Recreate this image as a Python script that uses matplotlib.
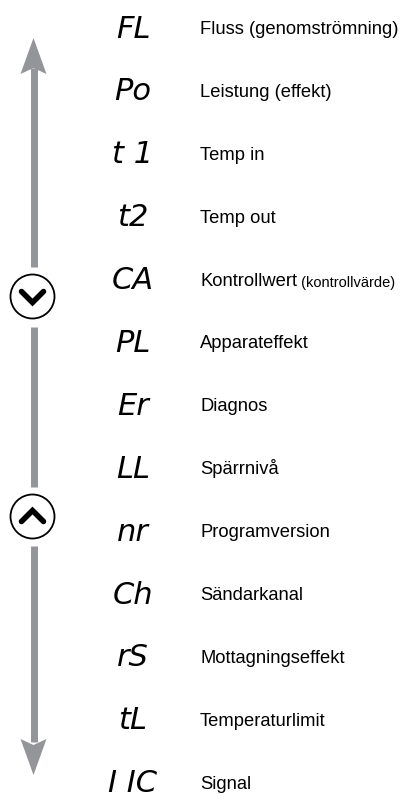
import numpy as np
import matplotlib
matplotlib.use('Agg')
import matplotlib.pyplot as plt
from matplotlib import font_manager as fm
from matplotlib.patches import Circle, Polygon

# display codes and their meaning
codes = ['FL', 'Po', 't 1', 't2', 'CA', 'PL', 'Er', 'LL', 'nr', 'Ch', 'rS', 'tL', 'I IC']
labels = ['Fluss (genomströmning)', 'Leistung (effekt)', 'Temp in', 'Temp out',
          'Kontrollwert', 'Apparateffekt', 'Diagnos', 'Spärrnivå', 'Programversion',
          'Sändarkanal', 'Mottagningseffekt', 'Temperaturlimit', 'Signal']
notes = ['', '', '', '', '(kontrollvärde)', '', '', '', '', '', '', '', '']

names = {f.name for f in fm.fontManager.ttflist}
if 'Liberation Sans Narrow' in names:
    lab_font, lab_size = 'Liberation Sans Narrow', 16
else:
    lab_font, lab_size = 'Liberation Sans', 13.2

fig = plt.figure(figsize=(4.01, 8.0), dpi=100)
ax = fig.add_axes([0, 0, 1, 1])
ax.set_xlim(0, 401)
ax.set_ylim(800, 0)
ax.axis('off')

y0, step = 29, 62.9
rows = y0 + step * np.arange(len(codes))

for y, c, lab, note in zip(rows, codes, labels, notes):
    ax.text(133, y, c, ha='center', va='center', fontsize=22,
            family='DejaVu Sans', style='oblique', color='black')
    t = ax.text(200, y + 5, lab, ha='left', va='baseline', fontsize=lab_size,
                family=lab_font, color='black')
    if note:
        ax.annotate(' ' + note, xy=(1, 0), xycoords=t, va='bottom', ha='left',
                    fontsize=10.5, family='Liberation Sans', color='black')

# navigation arrow on the left
gray = '#939598'
cx = 33.5
ax.plot([cx, cx], [68, 267], color=gray, lw=5, solid_capstyle='butt')
ax.plot([cx, cx], [327, 487], color=gray, lw=5, solid_capstyle='butt')
ax.plot([cx, cx], [546, 742], color=gray, lw=5, solid_capstyle='butt')
ax.add_patch(Polygon([[cx, 38], [cx + 13, 74], [cx, 68], [cx - 13, 74]],
                     closed=True, color=gray, lw=0))
ax.add_patch(Polygon([[cx, 775], [cx + 13, 739], [cx, 745], [cx - 13, 739]],
                     closed=True, color=gray, lw=0))

# buttons
for cy, d in [(296.5, 1), (516.5, -1)]:
    ax.add_patch(Circle((cx - 1, cy), 22, fill=False, ec='black', lw=1.3))
    ax.plot([cx - 12, cx - 1, cx + 10], [cy - 5 * d, cy + 6 * d, cy - 5 * d],
            color='black', lw=4, solid_capstyle='round', solid_joinstyle='miter')

fig.savefig('out.png', dpi=100)
